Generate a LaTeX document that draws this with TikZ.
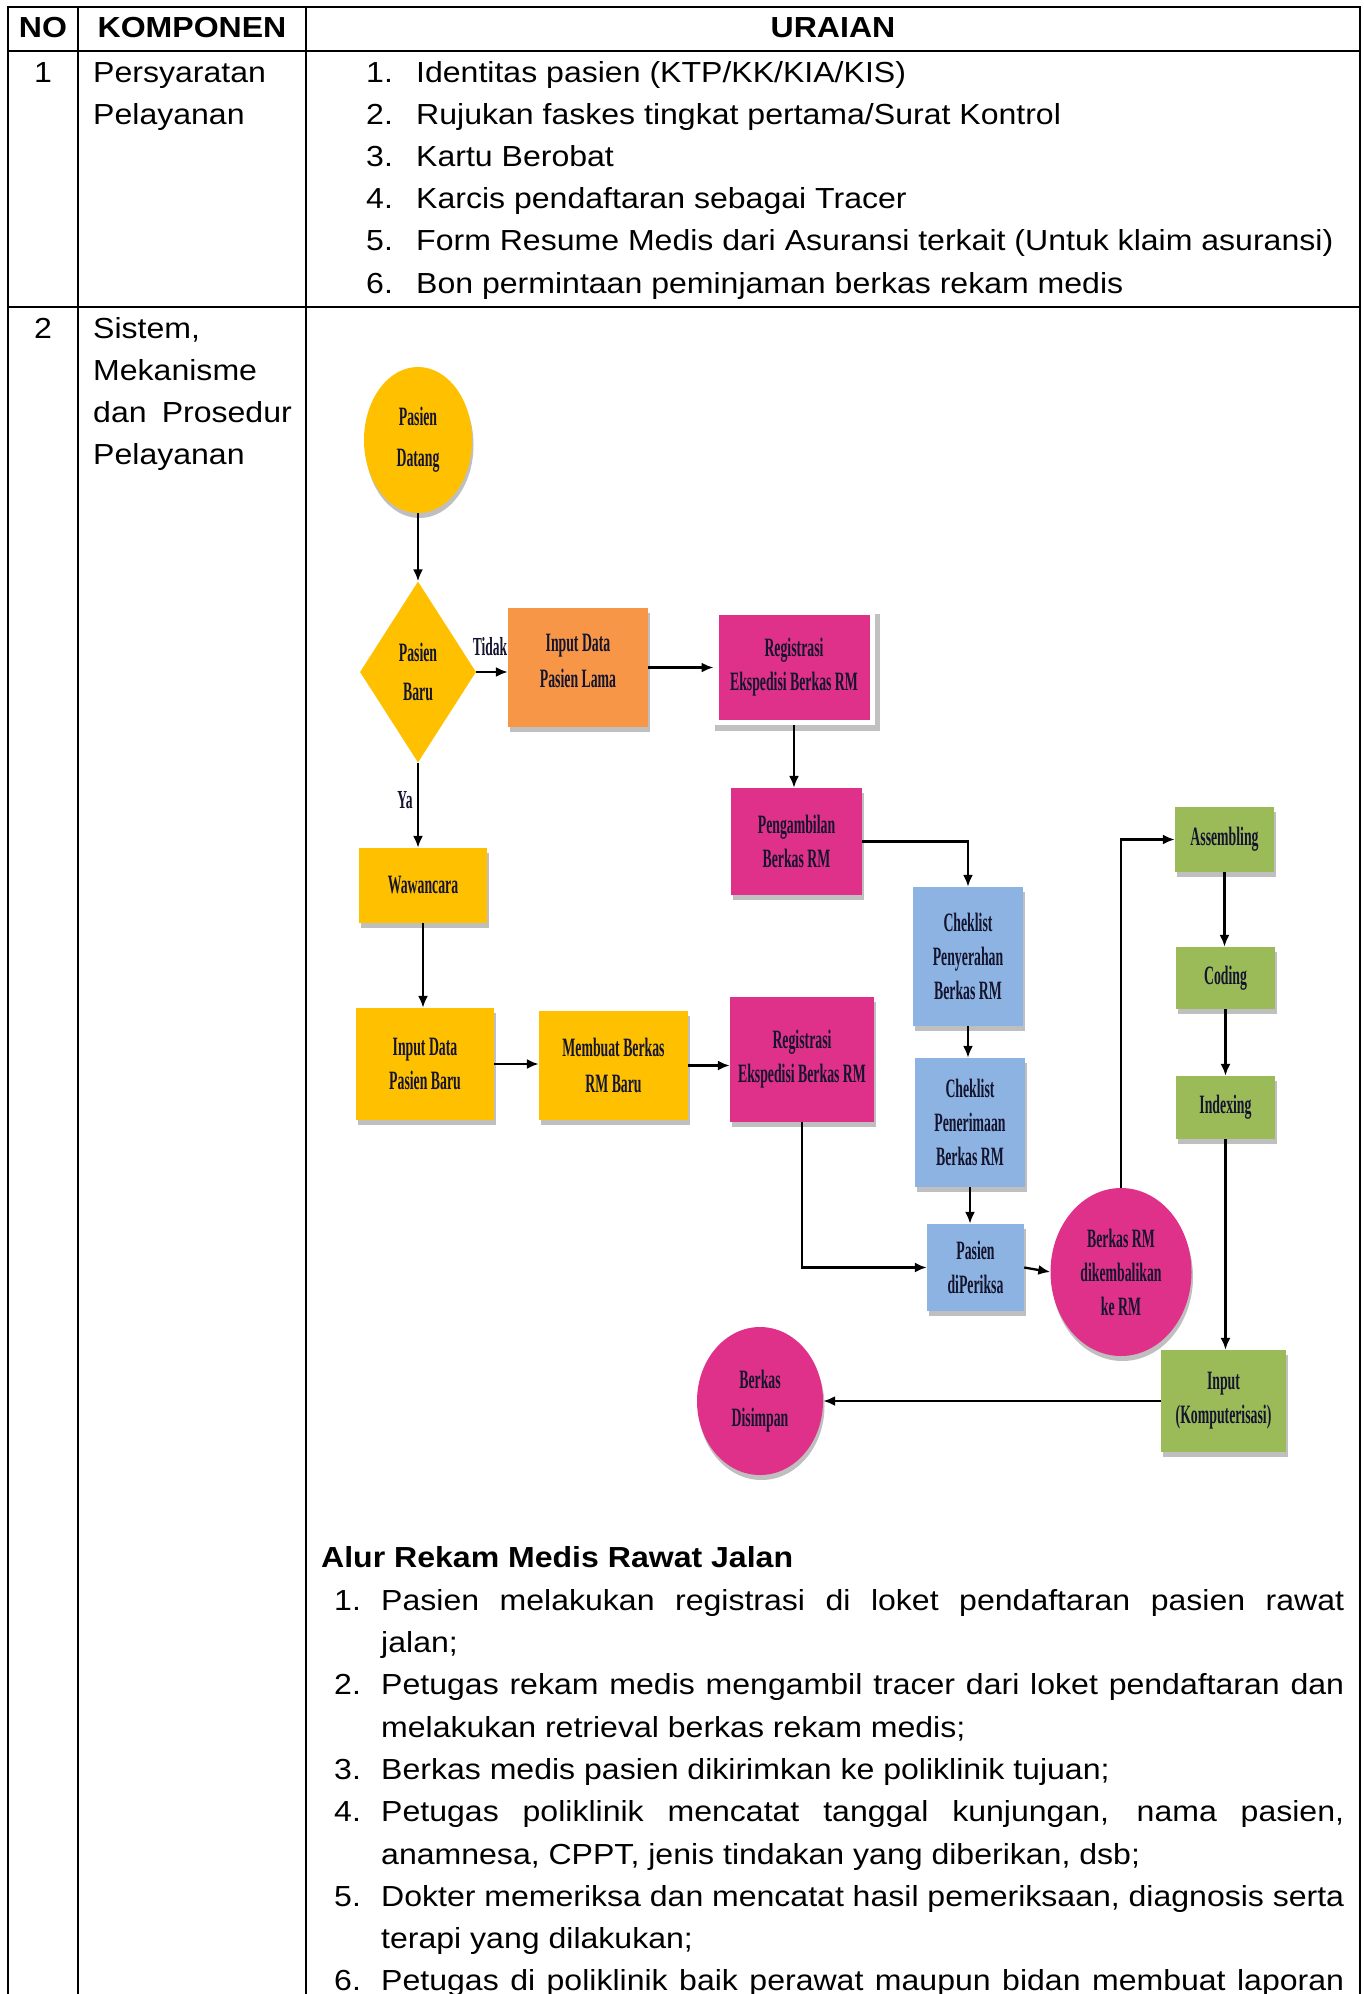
\documentclass[tikz,border=0pt]{standalone}
\usepackage{fontspec}
\setmainfont{Liberation Sans}[FakeStretch=1.105]
\newfontfamily\nodefont{Liberation Serif}[FakeStretch=0.52]
\usetikzlibrary{shapes.geometric,arrows.meta,shadows,calc}
\definecolor{cyel}{HTML}{FFC000}
\definecolor{corg}{HTML}{F79646}
\definecolor{cmag}{HTML}{E0318A}
\definecolor{cblu}{HTML}{8DB3E2}
\definecolor{cgrn}{HTML}{9BBB59}
\definecolor{ctxt}{HTML}{14142E}
\begin{document}
\begin{tikzpicture}[x=1pt,y=-1pt,
  every node/.style={inner sep=0pt},
  tbl/.style={line width=2pt},
  mtext/.style={font=\fontsize{29}{42.3}\selectfont, anchor=base west},
  htext/.style={font=\bfseries\fontsize{29}{42.3}\selectfont, anchor=base},
  para/.style={font=\fontsize{29}{42.3}\selectfont, anchor=north west, text width=963pt, align=justify},
  flowbox/.style={rectangle, align=center, font=\nodefont\bfseries\fontsize{26.5}{34}\selectfont, text=ctxt},
  shd/.style={drop shadow={shadow xshift=1.5pt, shadow yshift=-5pt, fill=black!45, opacity=.55}},
  lbl/.style={font=\nodefont\bfseries\fontsize{26}{30}\selectfont, text=ctxt},
  arr/.style={-{Latex[length=12pt,width=10pt]}, line width=2.3pt, draw=black}
]
\useasboundingbox (0,0) rectangle (1364,1994);
\fill[white] (0,0) rectangle (1364,1994);

% table
\draw[tbl, line join=miter] (8,2000) -- (8,7) -- (1360,7) -- (1360,2000);
\draw[tbl] (8,51) -- (1360,51);
\draw[tbl] (8,307) -- (1360,307);
\draw[tbl] (78,7) -- (78,2000);
\draw[tbl] (306,7) -- (306,2000);

\node[htext] (hno) at (43,37) {NO};
\node[htext] (hkomp) at (192,37) {KOMPONEN};
\node[htext] (hur) at (833,37) {URAIAN};

\node[mtext, anchor=base] (n1) at (43,82.5) {1};
\node[mtext] (k1a) at (93,82.5) {Persyaratan};
\node[mtext] (k1b) at (93,124.6) {Pelayanan};

\node[mtext] (r1n) at (366,82.5) {1.};
\node[mtext] (r1t) at (416,82.5) {Identitas pasien (KTP/KK/KIA/KIS)};
\node[mtext] (r2n) at (366,124.6) {2.};
\node[mtext] (r2t) at (416,124.6) {Rujukan faskes tingkat pertama/Surat Kontrol};
\node[mtext] (r3n) at (366,166.7) {3.};
\node[mtext] (r3t) at (416,166.7) {Kartu Berobat};
\node[mtext] (r4n) at (366,208.8) {4.};
\node[mtext] (r4t) at (416,208.8) {Karcis pendaftaran sebagai Tracer};
\node[mtext] (r5n) at (366,250.9) {5.};
\node[mtext] (r5t) at (416,250.9) {Form Resume Medis dari Asuransi terkait (Untuk klaim asuransi)};
\node[mtext] (r6n) at (366,293) {6.};
\node[mtext] (r6t) at (416,293) {Bon permintaan peminjaman berkas rekam medis};

\node[mtext, anchor=base] (n2) at (43,338) {2};
\node[mtext] (k2a) at (93,338) {Sistem,};
\node[mtext] (k2b) at (93,380.3) {Mekanisme};
\node[mtext] (k2c) at (93,422.6) {dan};
\node[mtext, anchor=base east] (k2d) at (292,422.6) {Prosedur};
\node[mtext] (k2e) at (93,464.9) {Pelayanan};

% flowchart
\node[flowbox, ellipse, shd, fill=cyel, minimum width=108pt, minimum height=146pt] (datang) at (418,440) {Pasien\\[7pt]Datang};
\node[flowbox, diamond, fill=cyel, minimum width=116pt, minimum height=181pt] (baru) at (418,672) {Pasien\\[5pt]Baru};
\node[flowbox, shd, fill=corg, minimum width=140pt, minimum height=119pt, text depth=14pt] (lama) at (578,667.5) {Input Data\\[2pt]Pasien Lama};
\node[flowbox, fill=cmag, draw=white, line width=5pt, minimum width=156pt, minimum height=110pt,
  drop shadow={shadow xshift=3pt, shadow yshift=-5pt, shadow scale=1.06, fill=black!40, opacity=.6}] (reg1) at (794,667) {Registrasi\\Ekspedisi Berkas RM};
\node[flowbox, shd, fill=cmag, minimum width=131pt, minimum height=107pt] (ambil) at (796.5,841.5) {Pengambilan\\Berkas RM};
\node[flowbox, shd, fill=cblu, minimum width=110pt, minimum height=139pt] (peny) at (968,956.5) {Cheklist\\Penyerahan\\Berkas RM};
\node[flowbox, shd, fill=cblu, minimum width=110pt, minimum height=129pt] (pener) at (970,1122.5) {Cheklist\\Penerimaan\\Berkas RM};
\node[flowbox, shd, fill=cblu, minimum width=97pt, minimum height=87pt] (periksa) at (975.5,1267.5) {Pasien\\diPeriksa};
\node[flowbox, ellipse, shd, fill=cmag, minimum width=141pt, minimum height=168pt] (kembali) at (1121,1272) {Berkas RM\\dikembalikan\\ke RM};
\node[flowbox, shd, fill=cgrn, minimum width=99pt, minimum height=65pt] (assem) at (1224.5,839.5) {Assembling};
\node[flowbox, shd, fill=cgrn, minimum width=99pt, minimum height=62pt] (coding) at (1225.5,978) {Coding};
\node[flowbox, shd, fill=cgrn, minimum width=99pt, minimum height=63pt] (indexing) at (1225.5,1107.5) {Indexing};
\node[flowbox, shd, fill=cgrn, minimum width=125pt, minimum height=102pt] (input) at (1223.5,1401) {Input\\(Komputerisasi)};
\node[flowbox, ellipse, shd, fill=cmag, minimum width=126pt, minimum height=148pt] (simpan) at (760,1401) {Berkas\\[4pt]Disimpan};
\node[flowbox, shd, fill=cyel, minimum width=128pt, minimum height=75pt] (waw) at (423,885.5) {Wawancara};
\node[flowbox, shd, fill=cyel, minimum width=138pt, minimum height=112pt] (pbaru) at (425,1064) {Input Data\\Pasien Baru};
\node[flowbox, shd, fill=cyel, minimum width=149pt, minimum height=109pt] (membuat) at (613.5,1065.5) {Membuat Berkas\\[2pt]RM Baru};
\node[flowbox, shd, fill=cmag, minimum width=144pt, minimum height=125pt] (reg2) at (802,1059.5) {Registrasi\\Ekspedisi Berkas RM};

\node[lbl] (tidak) at (490,647) {Tidak};
\node[lbl] (ya) at (405,800) {Ya};

\draw[arr] (datang.south) -- (baru.north);
\draw[arr] (baru.east) -- (baru.east -| lama.west);
\draw[arr] (lama.east) -- (lama.east -| reg1.west);
\draw[arr] (reg1.south) -- (reg1.south |- ambil.north);
\draw[arr] (ambil.east) -| (peny.north);
\draw[arr] (peny.south) -- (peny.south |- pener.north);
\draw[arr] (pener.south) -- (pener.south |- periksa.north);
\draw[arr] (periksa.east) -- (kembali.west);
\draw[arr] (kembali.north) |- (assem.west);
\draw[arr] (assem.south) -- (assem.south |- coding.north);
\draw[arr] (coding.south) -- (coding.south |- indexing.north);
\draw[arr] (indexing.south) -- (indexing.south |- input.north);
\draw[arr] (input.west) -- (simpan.east);
\draw[arr] (baru.south) -- (baru.south |- waw.north);
\draw[arr] (waw.south) -- (waw.south |- pbaru.north);
\draw[arr] (pbaru.east) -- (pbaru.east -| membuat.west);
\draw[arr] (membuat.east) -- (membuat.east -| reg2.west);
\draw[arr] (reg2.south) |- (periksa.west);

% bottom text
\node[htext, anchor=base west] (alur) at (321,1567) {Alur Rekam Medis Rawat Jalan};
\node[mtext] (b1n) at (334,1610) {1.};
\node[para] (b1t) at (381,1580.4) {\strut Pasien melakukan registrasi di loket pendaftaran pasien rawat\linebreak jalan;};
\node[mtext] (b2n) at (334,1694.6) {2.};
\node[para] (b2t) at (381,1665) {\strut Petugas rekam medis mengambil tracer dari loket pendaftaran dan\linebreak melakukan retrieval berkas rekam medis;};
\node[mtext] (b3n) at (334,1779.2) {3.};
\node[para] (b3t) at (381,1749.6) {\strut Berkas medis pasien dikirimkan ke poliklinik tujuan;};
\node[mtext] (b4n) at (334,1821.5) {4.};
\node[para] (b4t) at (381,1791.9) {\strut Petugas poliklinik mencatat tanggal kunjungan, nama pasien,\linebreak anamnesa, CPPT, jenis tindakan yang diberikan, dsb;};
\node[mtext] (b5n) at (334,1906.1) {5.};
\node[para] (b5t) at (381,1876.5) {\strut Dokter memeriksa dan mencatat hasil pemeriksaan, diagnosis serta\linebreak terapi yang dilakukan;};
\node[mtext] (b6n) at (334,1990.7) {6.};
\node[mtext] (b6t) at (381,1990.7) {\makebox[963pt][s]{Petugas di poliklinik baik perawat maupun bidan membuat laporan}};
\end{tikzpicture}
\end{document}
